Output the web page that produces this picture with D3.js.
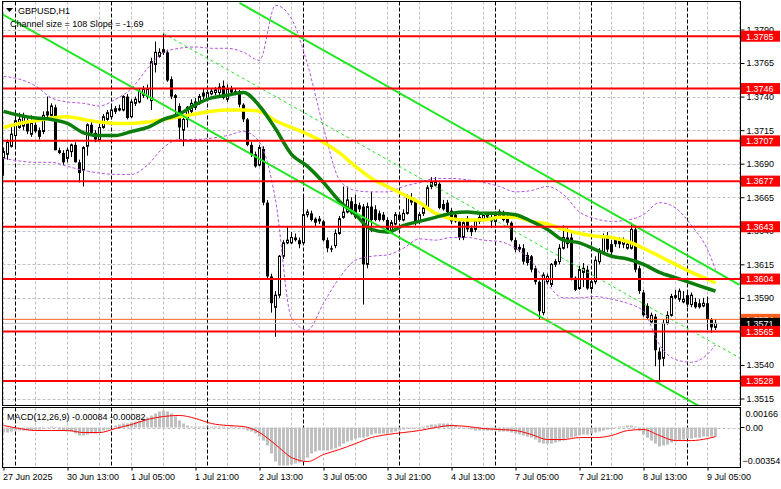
<!DOCTYPE html>
<html><head><meta charset="utf-8">
<script src="https://cdn.jsdelivr.net/npm/d3@7"></script>
<style>
body{margin:0;background:#fff}
svg{display:block}
text{font-family:"Liberation Sans",Arial,sans-serif;font-size:9px}
</style></head>
<body><svg id="c" width="781" height="489"></svg>
<script>
// ---------- DATA ----------
const symbolTitle = "GBPUSD,H1";
const channelText = "Channel size = 108 Slope = -1.69";
const macdText = "MACD(12,26,9) -0.00084 -0.00082";
const timeLabels = ["27 Jun 2025","30 Jun 13:00","1 Jul 05:00","1 Jul 21:00","2 Jul 13:00","3 Jul 05:00","3 Jul 21:00","4 Jul 13:00","7 Jul 05:00","7 Jul 21:00","8 Jul 13:00","9 Jul 05:00"];
const labelBars = [0,16,32,48,64,80,96,112,128,144,160,176];
const daySeparatorBars = [3,27,51,75,99,123,147,171];
const priceTicks = [1.3790,1.3765,1.3740,1.3715,1.3690,1.3665,1.3640,1.3615,1.3590,1.3565,1.3540,1.3515];
const levels = [1.3785,1.3746,1.3707,1.3677,1.3643,1.3604,1.3565,1.3528];
const askPrice = 1.3574, bidPrice = 1.3571;
const macdTicks = [0.00166, 0.00, -0.00354];

const open = [1.3694,1.3697,1.3703,1.3711,1.3717,1.3718,1.3722,1.3712,1.3719,1.3715,
1.3714,1.3729,1.3726,1.3732,1.3700,1.3698,1.3694,1.3699,1.3704,1.3691,
1.3685,1.3703,1.3719,1.3713,1.3708,1.3717,1.3723,1.3725,1.3729,1.3730,
1.3730,1.3740,1.3725,1.3735,1.3736,1.3741,1.3740,1.3737,1.3764,1.3770,
1.3773,1.3773,1.3753,1.3741,1.3733,1.3715,1.3723,1.3729,1.3732,1.3735,
1.3743,1.3738,1.3742,1.3743,1.3743,1.3748,1.3738,1.3746,1.3744,1.3744,
1.3734,1.3723,1.3704,1.3697,1.3689,1.3701,1.3661,1.3606,1.3583,1.3592,
1.3621,1.3631,1.3631,1.3635,1.3633,1.3631,1.3652,1.3653,1.3649,1.3649,
1.3647,1.3633,1.3627,1.3629,1.3638,1.3650,1.3654,1.3662,1.3660,1.3659,
1.3658,1.3615,1.3658,1.3656,1.3653,1.3652,1.3648,1.3639,1.3645,1.3652,
1.3648,1.3653,1.3665,1.3662,1.3647,1.3653,1.3657,1.3673,1.3674,1.3675,
1.3660,1.3661,1.3655,1.3652,1.3647,1.3635,1.3649,1.3642,1.3641,1.3647,
1.3649,1.3652,1.3650,1.3647,1.3651,1.3653,1.3650,1.3646,1.3633,1.3628,
1.3627,1.3622,1.3621,1.3612,1.3602,1.3579,1.3602,1.3600,1.3615,1.3617,
1.3627,1.3635,1.3635,1.3605,1.3597,1.3609,1.3611,1.3597,1.3602,1.3617,
1.3624,1.3635,1.3630,1.3633,1.3633,1.3630,1.3627,1.3627,1.3641,1.3612,
1.3594,1.3584,1.3572,1.3576,1.3550,1.3545,1.3571,1.3577,1.3592,1.3589,
1.3587,1.3592,1.3585,1.3587,1.3586,1.3584,1.3586,1.3574,1.3568];
const high = [1.3702,1.3708,1.3718,1.3725,1.3728,1.3728,1.3724,1.3726,1.3721,1.3717,
1.3729,1.3740,1.3735,1.3734,1.3702,1.3700,1.3702,1.3705,1.3706,1.3693,
1.3703,1.3720,1.3723,1.3715,1.3720,1.3727,1.3730,1.3733,1.3733,1.3734,
1.3741,1.3742,1.3738,1.3740,1.3746,1.3748,1.3749,1.3769,1.3781,1.3776,
1.3787,1.3775,1.3755,1.3742,1.3735,1.3724,1.3733,1.3738,1.3739,1.3742,
1.3746,1.3745,1.3746,1.3747,1.3750,1.3752,1.3749,1.3748,1.3746,1.3745,
1.3735,1.3724,1.3706,1.3699,1.3704,1.3703,1.3663,1.3608,1.3595,1.3622,
1.3633,1.3643,1.3639,1.3638,1.3635,1.3665,1.3656,1.3655,1.3650,1.3651,
1.3648,1.3635,1.3629,1.3641,1.3651,1.3673,1.3673,1.3665,1.3667,1.3661,
1.3660,1.3661,1.3669,1.3659,1.3655,1.3654,1.3650,1.3648,1.3654,1.3654,
1.3656,1.3667,1.3668,1.3663,1.3654,1.3659,1.3674,1.3680,1.3680,1.3676,
1.3663,1.3663,1.3657,1.3654,1.3648,1.3648,1.3651,1.3644,1.3648,1.3653,
1.3654,1.3654,1.3653,1.3654,1.3656,1.3655,1.3652,1.3647,1.3635,1.3630,
1.3630,1.3624,1.3622,1.3614,1.3603,1.3609,1.3608,1.3616,1.3619,1.3630,
1.3644,1.3642,1.3638,1.3606,1.3614,1.3616,1.3614,1.3604,1.3621,1.3627,
1.3638,1.3639,1.3633,1.3635,1.3635,1.3635,1.3632,1.3646,1.3643,1.3614,
1.3596,1.3586,1.3579,1.3578,1.3553,1.3574,1.3580,1.3593,1.3596,1.3597,
1.3595,1.3595,1.3594,1.3590,1.3589,1.3590,1.3591,1.3575,1.3574];
const low = [1.3681,1.3693,1.3702,1.3703,1.3716,1.3715,1.3712,1.3710,1.3713,1.3708,
1.3712,1.3723,1.3725,1.3700,1.3697,1.3689,1.3691,1.3695,1.3691,1.3676,
1.3673,1.3696,1.3711,1.3706,1.3707,1.3716,1.3722,1.3723,1.3727,1.3729,
1.3729,1.3723,1.3724,1.3733,1.3735,1.3739,1.3738,1.3730,1.3758,1.3769,
1.3771,1.3751,1.3738,1.3726,1.3708,1.3703,1.3717,1.3727,1.3730,1.3734,
1.3738,1.3737,1.3741,1.3741,1.3741,1.3738,1.3736,1.3741,1.3741,1.3732,
1.3721,1.3703,1.3695,1.3687,1.3688,1.3659,1.3604,1.3579,1.3561,1.3590,
1.3619,1.3630,1.3630,1.3632,1.3627,1.3630,1.3650,1.3647,1.3643,1.3645,
1.3632,1.3624,1.3624,1.3627,1.3637,1.3649,1.3653,1.3652,1.3649,1.3654,
1.3585,1.3612,1.3639,1.3647,1.3647,1.3647,1.3638,1.3638,1.3644,1.3647,
1.3647,1.3652,1.3659,1.3644,1.3645,1.3651,1.3656,1.3671,1.3673,1.3656,
1.3655,1.3653,1.3645,1.3646,1.3633,1.3633,1.3639,1.3636,1.3639,1.3645,
1.3647,1.3648,1.3642,1.3644,1.3650,1.3647,1.3644,1.3632,1.3624,1.3624,
1.3615,1.3614,1.3609,1.3600,1.3574,1.3577,1.3600,1.3598,1.3613,1.3615,
1.3626,1.3627,1.3603,1.3595,1.3596,1.3598,1.3596,1.3596,1.3600,1.3615,
1.3622,1.3624,1.3622,1.3628,1.3627,1.3627,1.3626,1.3626,1.3609,1.3593,
1.3576,1.3574,1.3571,1.3539,1.3527,1.3539,1.3570,1.3576,1.3589,1.3587,
1.3586,1.3583,1.3583,1.3582,1.3582,1.3583,1.3566,1.3564,1.3566];
const close = [1.3699,1.3706,1.3712,1.3722,1.3723,1.3725,1.3714,1.3720,1.3714,1.3710,
1.3726,1.3726,1.3733,1.3700,1.3698,1.3691,1.3700,1.3704,1.3691,1.3683,
1.3702,1.3719,1.3713,1.3708,1.3717,1.3725,1.3728,1.3730,1.3731,1.3731,
1.3740,1.3724,1.3736,1.3738,1.3744,1.3746,1.3746,1.3766,1.3773,1.3773,
1.3775,1.3752,1.3740,1.3739,1.3717,1.3723,1.3732,1.3735,1.3736,1.3740,
1.3740,1.3743,1.3744,1.3745,1.3747,1.3739,1.3746,1.3743,1.3743,1.3734,
1.3723,1.3704,1.3697,1.3688,1.3702,1.3661,1.3606,1.3586,1.3592,1.3621,
1.3631,1.3633,1.3635,1.3633,1.3630,1.3652,1.3654,1.3648,1.3646,1.3647,
1.3633,1.3627,1.3626,1.3638,1.3649,1.3654,1.3663,1.3653,1.3650,1.3656,
1.3615,1.3658,1.3648,1.3648,1.3648,1.3648,1.3639,1.3646,1.3652,1.3648,
1.3653,1.3665,1.3661,1.3646,1.3652,1.3657,1.3672,1.3676,1.3676,1.3657,
1.3656,1.3654,1.3647,1.3647,1.3635,1.3646,1.3641,1.3639,1.3647,1.3650,
1.3652,1.3650,1.3647,1.3652,1.3654,1.3648,1.3646,1.3633,1.3626,1.3626,
1.3617,1.3616,1.3611,1.3602,1.3580,1.3607,1.3606,1.3615,1.3617,1.3627,
1.3635,1.3630,1.3605,1.3596,1.3611,1.3612,1.3597,1.3602,1.3618,1.3624,
1.3635,1.3626,1.3624,1.3630,1.3630,1.3633,1.3630,1.3641,1.3611,1.3595,
1.3577,1.3575,1.3577,1.3551,1.3544,1.3571,1.3577,1.3591,1.3590,1.3595,
1.3589,1.3585,1.3592,1.3583,1.3583,1.3586,1.3574,1.3568,1.3571];

// indicator readings, one per sampled bar
const sampleBars = [0,4,8,12,16,20,24,28,32,36,40,44,48,52,56,60,64,68,72,76,80,84,88,92,96,100,104,108,112,116,120,124,128,132,136,140,144,148,152,156,160,164,168,172,176,178];
const maGreen = [1.3729,1.3726,1.3724,1.3723,1.3720,1.3713,1.3711,1.3711,1.3714,1.3717,1.3723,1.3727,1.3734,1.3739,1.3741,1.3743,1.3733,1.3716,1.3697,1.3688,1.3676,1.3662,1.3652,1.3641,1.3639,1.3644,1.3647,1.3650,1.3653,1.3654,1.3653,1.3653,1.3652,1.3647,1.3641,1.3633,1.3631,1.3626,1.3621,1.3619,1.3615,1.3609,1.3605,1.3601,1.3597,1.3595];
const maYellow = [1.3717,1.3720,1.3722,1.3724,1.3725,1.3723,1.3721,1.3720,1.3720,1.3721,1.3723,1.3725,1.3727,1.3729,1.3730,1.3730,1.3729,1.3722,1.3717,1.3712,1.3706,1.3698,1.3688,1.3679,1.3673,1.3667,1.3661,1.3653,1.3649,1.3648,1.3648,1.3650,1.3650,1.3647,1.3645,1.3641,1.3638,1.3636,1.3635,1.3632,1.3627,1.3621,1.3615,1.3609,1.3604,1.3601];
const bandUpper = [1.3755,1.3753,1.3748,1.3739,1.3736,1.3735,1.3733,1.3738,1.3746,1.3761,1.3773,1.3776,1.3777,1.3776,1.3776,1.3773,1.3767,1.3808,1.3798,1.3764,1.3717,1.3678,1.3670,1.3669,1.3669,1.3673,1.3676,1.3679,1.3679,1.3678,1.3676,1.3673,1.3669,1.3670,1.3673,1.3667,1.3654,1.3649,1.3647,1.3648,1.3652,1.3661,1.3657,1.3644,1.3626,1.3611];
const bandLower = [1.3694,1.3692,1.3691,1.3691,1.3688,1.3685,1.3683,1.3682,1.3682,1.3689,1.3702,1.3708,1.3708,1.3709,1.3711,1.3714,1.3706,1.3663,1.3575,1.3566,1.3586,1.3605,1.3618,1.3621,1.3622,1.3627,1.3634,1.3633,1.3635,1.3635,1.3633,1.3632,1.3627,1.3617,1.3600,1.3590,1.3590,1.3591,1.3589,1.3586,1.3580,1.3555,1.3544,1.3542,1.3548,1.3555];
const macdSignal = [0.00018,-0.00009,-0.00027,-0.00027,-0.00027,-0.00045,-0.00045,-0.00009,0.00027,0.00072,0.00099,0.00108,0.00081,0.00036,0.00018,0.00009,-0.00045,-0.00152,-0.00269,-0.00305,-0.00242,-0.00197,-0.00144,-0.00090,-0.00063,-0.00045,-0.00027,0.00000,0.00018,0.00009,-0.00009,-0.00018,-0.00027,-0.00063,-0.00108,-0.00108,-0.00090,-0.00090,-0.00072,-0.00027,-0.00018,-0.00072,-0.00117,-0.00117,-0.00099,-0.00082];
const macdMain = [-0.00045,-0.00045,-0.00036,-0.00027,-0.00027,-0.00027,-0.00027,-0.00027,-0.00018,-0.00018,
-0.00009,0.00002,0.00009,0.00002,-0.00018,-0.00027,-0.00036,-0.00036,-0.00054,-0.00072,
-0.00072,-0.00063,-0.00054,-0.00054,-0.00045,-0.00027,-0.00018,-0.00002,0.00018,0.00027,
0.00036,0.00036,0.00045,0.00054,0.00063,0.00081,0.00090,0.00108,0.00126,0.00144,
0.00153,0.00144,0.00126,0.00099,0.00063,0.00036,0.00018,0.00009,0.00009,0.00009,
0.00009,0.00009,0.00009,0.00009,0.00009,0.00009,0.00002,0.00009,0.00002,-0.00002,
-0.00009,-0.00027,-0.00036,-0.00054,-0.00081,-0.00117,-0.00161,-0.00233,-0.00305,-0.00341,
-0.00341,-0.00341,-0.00332,-0.00323,-0.00314,-0.00296,-0.00269,-0.00233,-0.00215,-0.00206,
-0.00206,-0.00206,-0.00197,-0.00188,-0.00170,-0.00144,-0.00126,-0.00117,-0.00099,-0.00090,
-0.00090,-0.00081,-0.00063,-0.00054,-0.00054,-0.00054,-0.00054,-0.00045,-0.00036,-0.00027,
-0.00018,-0.00009,-0.00009,-0.00002,0.00002,0.00009,0.00018,0.00027,0.00027,0.00036,
0.00036,0.00036,0.00027,0.00018,0.00009,0.00002,-0.00009,-0.00018,-0.00027,-0.00027,
-0.00027,-0.00027,-0.00027,-0.00027,-0.00036,-0.00036,-0.00036,-0.00045,-0.00054,-0.00063,
-0.00072,-0.00081,-0.00090,-0.00108,-0.00135,-0.00144,-0.00144,-0.00144,-0.00135,-0.00126,
-0.00117,-0.00099,-0.00090,-0.00081,-0.00072,-0.00063,-0.00063,-0.00054,-0.00045,-0.00036,
-0.00027,-0.00018,-0.00009,-0.00002,0.00009,0.00009,0.00018,0.00018,0.00009,-0.00027,
-0.00063,-0.00090,-0.00117,-0.00144,-0.00170,-0.00161,-0.00153,-0.00135,-0.00126,-0.00117,
-0.00108,-0.00099,-0.00099,-0.00090,-0.00090,-0.00081,-0.00081,-0.00081,-0.00084];

// channel lines: [barIndex, price] endpoints
const channelUpper = [[59,1.38098],[184,1.35997]];
const channelMid   = [[40,1.37870],[184,1.35453]];
const channelLower = [[-1,1.38025],[178,1.35025]];

// ---------- DRAW ----------
const svg = d3.select("#c");
svg.append("rect").attr("width",781).attr("height",489).attr("fill","#fff");
const L=2.5, R=740.5, T=1.5, B=405.5, MT=407.5, MB=467.5;
const x = d3.scaleLinear().domain([0,178]).range([3.5,715.5]);
const y = d3.scaleLinear().domain([1.3515,1.3790]).range([398.5,29.5]);
const ym = d3.scaleLinear().domain([-0.00354,0.00166]).range([467,409]);

const defs = svg.append("defs");
defs.append("clipPath").attr("id","cm").append("rect").attr("x",3).attr("y",2).attr("width",737).attr("height",403);
defs.append("clipPath").attr("id","cd").append("rect").attr("x",3).attr("y",408).attr("width",737).attr("height",59);

const gm = svg.append("g").attr("clip-path","url(#cm)");
const gd = svg.append("g").attr("clip-path","url(#cd)");

// grid
const gridBars = d3.range(0,185,8);
[[gm,T,B],[gd,MT,MB]].forEach(([g,t,b])=>{
  g.selectAll("line.vg").data(gridBars).join("line").attr("class","vg")
   .attr("x1",d=>x(d)).attr("x2",d=>x(d)).attr("y1",t).attr("y2",b)
   .attr("stroke","#c0c0c0").attr("stroke-dasharray","3,2");
});
gm.selectAll("line.hg").data(priceTicks).join("line").attr("class","hg")
  .attr("x1",L).attr("x2",R).attr("y1",d=>Math.round(y(d))+0.5).attr("y2",d=>Math.round(y(d))+0.5)
  .attr("stroke","#c0c0c0").attr("stroke-dasharray","3,2");
gd.append("line").attr("x1",L).attr("x2",R).attr("y1",Math.round(ym(0))+0.5).attr("y2",Math.round(ym(0))+0.5)
  .attr("stroke","#c0c0c0").attr("stroke-dasharray","3,2");
[[gm,T,B],[gd,MT,MB]].forEach(([g,t,b])=>{
  g.selectAll("line.sep").data(daySeparatorBars).join("line").attr("class","sep")
   .attr("x1",d=>x(d)).attr("x2",d=>x(d)).attr("y1",t).attr("y2",b)
   .attr("stroke","#000").attr("stroke-dasharray","4,2");
});

// candles
const bars = open.map((o,i)=>({i,o,h:high[i],l:low[i],c:close[i]}));
gm.selectAll("line.wick").data(bars).join("line").attr("class","wick")
  .attr("x1",d=>x(d.i)).attr("x2",d=>x(d.i)).attr("y1",d=>y(d.h)).attr("y2",d=>y(d.l))
  .attr("stroke","#000").attr("stroke-width",1);
gm.selectAll("rect.bull").data(bars.filter(d=>d.c>=d.o)).join("rect").attr("class","bull")
  .attr("x",d=>x(d.i)-1).attr("width",2)
  .attr("y",d=>y(d.c)).attr("height",d=>Math.max(0.5,y(d.o)-y(d.c)))
  .attr("fill","#fff").attr("stroke","#000").attr("stroke-width",1);
gm.selectAll("rect.bear").data(bars.filter(d=>d.c<d.o)).join("rect").attr("class","bear")
  .attr("x",d=>x(d.i)-1.5).attr("width",3)
  .attr("y",d=>y(d.o)).attr("height",d=>Math.max(1,y(d.c)-y(d.o)))
  .attr("fill","#000");

// bollinger bands
const series = arr => arr.map((v,k)=>({i:sampleBars[k],v}));
const smooth = d3.line().x(d=>x(d.i)).y(d=>y(d.v)).curve(d3.curveMonotoneX);
[bandUpper,bandLower].forEach(b=>{
  gm.append("path").attr("d",smooth(series(b))).attr("fill","none")
    .attr("stroke","#b455e0").attr("stroke-width",1).attr("stroke-dasharray","3,2");
});
// moving averages
gm.append("path").attr("d",smooth(series(maYellow))).attr("fill","none").attr("stroke","#ffff00").attr("stroke-width",3.5);
gm.append("path").attr("d",smooth(series(maGreen))).attr("fill","none").attr("stroke","#0a7d0a").attr("stroke-width",3.5);

// channel
const straight = d3.line().x(d=>x(d[0])).y(d=>y(d[1]));
gm.append("path").attr("d",straight(channelUpper)).attr("stroke","#22e622").attr("stroke-width",2).attr("fill","none");
gm.append("path").attr("d",straight(channelLower)).attr("stroke","#22e622").attr("stroke-width",2).attr("fill","none");
gm.append("path").attr("d",straight(channelMid)).attr("stroke","#22e622").attr("stroke-width",1).attr("stroke-dasharray","3,3").attr("fill","none");

// horizontal levels
gm.selectAll("line.lvl").data(levels).join("line").attr("class","lvl")
  .attr("x1",L).attr("x2",R).attr("y1",d=>y(d)).attr("y2",d=>y(d))
  .attr("stroke","#ff0000").attr("stroke-width",2);
// ask / bid lines
gm.append("line").attr("x1",L).attr("x2",R).attr("y1",y(bidPrice)).attr("y2",y(bidPrice)).attr("stroke","#c0c0c0").attr("stroke-width",1);
gm.append("line").attr("x1",L).attr("x2",R).attr("y1",y(askPrice)).attr("y2",y(askPrice)).attr("stroke","#ff6020").attr("stroke-width",1);

// MACD
gd.selectAll("rect.hist").data(macdMain.map((v,i)=>({i,v}))).join("rect").attr("class","hist")
  .attr("x",d=>x(d.i)-1.5).attr("width",3)
  .attr("y",d=>Math.min(ym(0),ym(d.v))).attr("height",d=>Math.max(0.5,Math.abs(ym(d.v)-ym(0))))
  .attr("fill","#c0c0c0");
gd.append("path").attr("d",d3.line().x(d=>x(d.i)).y(d=>ym(d.v)).curve(d3.curveMonotoneX)(series(macdSignal)))
  .attr("fill","none").attr("stroke","#ff0000").attr("stroke-width",1);

// frames
svg.append("rect").attr("x",L).attr("y",T).attr("width",R-L).attr("height",B-T).attr("fill","none").attr("stroke","#000");
svg.append("rect").attr("x",L).attr("y",MT).attr("width",R-L).attr("height",MB-MT).attr("fill","none").attr("stroke","#000");

// right price axis (labels fully hidden under a level box are not drawn)
const ay = svg.append("g").attr("transform",`translate(${R},0)`)
  .call(d3.axisRight(y).tickValues(priceTicks).tickSize(4).tickPadding(2)
    .tickFormat(d => levels.some(l => Math.abs(l-d) < 0.00005) ? "" : d3.format(".4f")(d)));
ay.select(".domain").remove();
ay.selectAll("text").attr("font-family","Liberation Sans, Arial, sans-serif").attr("font-size",9).attr("fill","#000");
ay.selectAll("line").attr("stroke","#000");

// macd axis labels
svg.append("line").attr("x1",R).attr("x2",R+4).attr("y1",ym(0)).attr("y2",ym(0)).attr("stroke","#000");
svg.append("text").attr("x",745.5).attr("y",ym(macdTicks[0])+8).text(d3.format(".5f")(macdTicks[0]));
svg.append("text").attr("x",745.5).attr("y",ym(macdTicks[1])+3).text("0.00");
svg.append("text").attr("x",742.5).attr("y",ym(macdTicks[2])-3).text(d3.format(".5f")(macdTicks[2]));

// price boxes
function priceBox(p,fill){
  const yy = y(p);
  svg.append("rect").attr("x",741).attr("y",yy-5.5).attr("width",39).attr("height",11).attr("fill",fill);
  svg.append("text").attr("x",746).attr("y",yy+3.3).attr("fill","#fff").text(d3.format(".4f")(p));
}
priceBox(askPrice,"#ff6020");
priceBox(bidPrice,"#000");
levels.forEach(p=>priceBox(p,"#ff0000"));

// time axis
const ax = svg.append("g").attr("transform",`translate(0,${MB})`)
  .call(d3.axisBottom(x).tickValues(labelBars).tickSize(3).tickFormat((d,i)=>timeLabels[i]));
ax.select(".domain").remove();
ax.selectAll("line").attr("stroke","#000");
ax.selectAll("text").attr("text-anchor","start").attr("dx",-1).attr("font-family","Liberation Sans, Arial, sans-serif").attr("font-size",9).attr("fill","#000");

// titles
svg.append("path").attr("d","M6,8 L13,8 L9.5,12 Z").attr("fill","#000");
svg.append("text").attr("x",18).attr("y",13.5).text(symbolTitle);
svg.append("text").attr("x",10).attr("y",27).text(channelText);
svg.append("text").attr("x",7).attr("y",420).text(macdText);
</script></body></html>
